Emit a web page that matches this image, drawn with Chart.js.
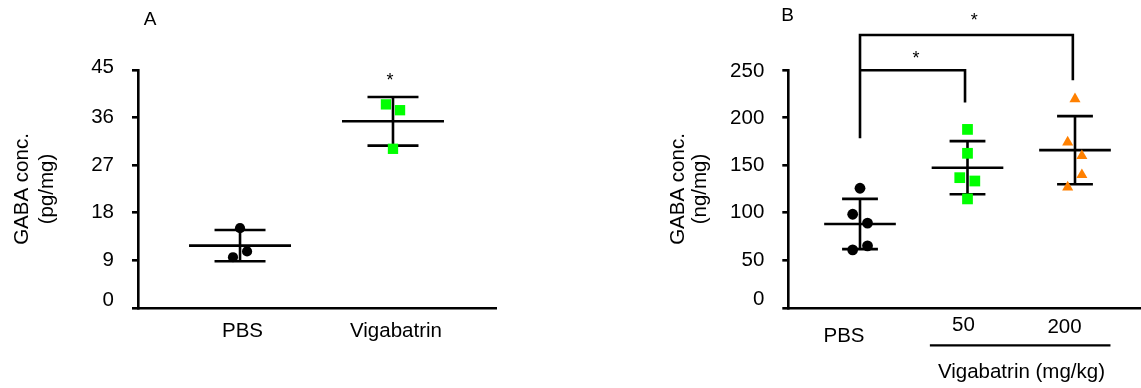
<!DOCTYPE html>
<html><head><meta charset="utf-8">
<script src="https://cdn.jsdelivr.net/npm/chart.js@4.4.1/dist/chart.umd.min.js"></script>
<style>
html,body{margin:0;padding:0;background:#fff;width:1141px;height:388px;overflow:hidden;}
#wrapA{position:absolute;left:0;top:0;width:497px;height:388px;}
#wrapB{position:absolute;left:640px;top:0;width:501px;height:388px;}
canvas{display:block;}
</style></head><body>
<div id="wrapA"><canvas id="cA" width="497" height="388"></canvas></div>
<div id="wrapB"><canvas id="cB" width="501" height="388"></canvas></div>
<script>
// ---------------- Panel A data ----------------
const categoriesA = ['PBS', 'Vigabatrin'];
const pbsA = [15.1, 10.7, 9.6];
const vigabatrinA = [38.5, 37.4, 30.1];
const meanA = [11.8, 35.3];
const sdA = [2.95, 4.6];
const yTicksA = [0, 9, 18, 27, 36, 45];
const yTitleA = ['GABA conc.', '(pg/mg)'];
const starsA = [{x: 1.98, y: 44.0}];

// ---------------- Panel B data ----------------
const categoriesB = ['PBS', '50', '200'];
const pbsB = [125.8, 98.5, 89.1, 65.3, 61.1];
const vig50B = [187.6, 162.5, 136.9, 133.4, 114.6];
const vig200B = [219.6, 174.1, 159.9, 139.9, 126.9];
const meanB = [88.2, 147.4, 165.8];
const sdB = [26.4, 27.9, 35.8];
const yTicksB = [0, 50, 100, 150, 200, 250];
const yTitleB = ['GABA conc.', '(ng/mg)'];
const groupTitleB = 'Vigabatrin (mg/kg)';
const starsB = [{x: 1.52, y: 267.3}, {x: 2.063, y: 307.4}];
const bracketsB = [
  [{x: 1, y: 178.2}, {x: 1, y: 286.8}, {x: 2.98, y: 286.8}, {x: 2.98, y: 239.3}],
  [{x: 1, y: 249.8}, {x: 1.977, y: 249.8}, {x: 1.977, y: 215.9}]
];

// ---------------- layout / style (not data) ----------------
const FAMILY = "'Liberation Sans', Arial, sans-serif";
const FS = 20.5;
const LW = 2.6;
const jitterA = [[0, 0.046, -0.046], [-0.046, 0.046, 0]];
const jitterB = [[0, -0.068, 0.07, 0.07, -0.068], [0, 0, -0.072, 0.068, 0], [0, -0.068, 0.064, 0.064, -0.068]];
const markA = [
  {pointStyle: 'circle', radius: 5.1, color: '#000000'},
  {pointStyle: 'rect', radius: 7.3, color: '#00FF00'}
];
const markB = [
  {pointStyle: 'circle', radius: 5.4, color: '#000000'},
  {pointStyle: 'rect', radius: 7.6, color: '#00FF00'},
  {pointStyle: 'triangle', radius: 6.4, color: '#FF8000'}
];

Chart.defaults.font.family = FAMILY;
Chart.defaults.color = '#000';

function seg(points) {
  return {type: 'scatter', data: points, showLine: true, borderColor: '#000', borderWidth: LW,
          pointRadius: 0, pointHoverRadius: 0, fill: false, clip: false, tension: 0};
}

function buildDatasets(groups, jitter, marks, means, sds, brackets) {
  const pts = [], lines = [];
  groups.forEach((vals, g) => {
    const pos = g + 1;
    pts.push({type: 'scatter',
      data: vals.map((v, i) => ({x: pos + jitter[g][i], y: v})),
      pointStyle: marks[g].pointStyle, pointRadius: marks[g].radius, pointHoverRadius: marks[g].radius,
      backgroundColor: marks[g].color, borderColor: marks[g].color, borderWidth: 0, clip: false});
    const m = means[g], s = sds[g];
    lines.push(seg([{x: pos - 1/3, y: m}, {x: pos + 1/3, y: m}]));
    lines.push(seg([{x: pos, y: m - s}, {x: pos, y: m + s}]));
    lines.push(seg([{x: pos - 1/6, y: m + s}, {x: pos + 1/6, y: m + s}]));
    lines.push(seg([{x: pos - 1/6, y: m - s}, {x: pos + 1/6, y: m - s}]));
  });
  (brackets || []).forEach(b => lines.push(seg(b)));
  return pts.concat(lines);
}

function textPlugin(cfg) {
  return {
    id: 'texts',
    afterDraw(chart) {
      const ctx = chart.ctx, xs = chart.scales.x, ys = chart.scales.y, ca = chart.chartArea;
      ctx.save();
      ctx.fillStyle = '#000';
      ctx.font = FS + 'px ' + FAMILY;
      // y tick labels
      ctx.textAlign = 'right'; ctx.textBaseline = 'alphabetic';
      cfg.yTicks.forEach((v, i) => {
        ctx.fillText(String(v), ca.left - cfg.yGap, ys.getPixelForValue(v) + cfg.yDy[i] + 0.358 * FS);
      });
      // x category labels
      ctx.textAlign = 'center';
      cfg.cats.forEach((c, i) => {
        ctx.fillText(c, xs.getPixelForValue(i + 1) + cfg.xDx[i], ca.bottom + cfg.xDy[i]);
      });
      // group title with line
      if (cfg.group) {
        ctx.strokeStyle = '#000'; ctx.lineWidth = 2.2;
        ctx.beginPath();
        const gy = ca.bottom + cfg.group.lineDy;
        ctx.moveTo(xs.getPixelForValue(cfg.group.from), gy);
        ctx.lineTo(xs.getPixelForValue(cfg.group.to), gy);
        ctx.stroke();
        ctx.fillText(cfg.group.text, xs.getPixelForValue(cfg.group.center), ca.bottom + cfg.group.textDy);
      }
      // significance stars
      ctx.font = '18px ' + FAMILY;
      cfg.stars.forEach(s => {
        ctx.fillText('*', xs.getPixelForValue(s.x), ys.getPixelForValue(s.y) + 10.3);
      });
      // panel letter
      ctx.font = '19px ' + FAMILY;
      ctx.textBaseline = 'middle';
      ctx.fillText(cfg.letter.text, cfg.letter.x, cfg.letter.y);
      ctx.restore();
    }
  };
}

function makeChart(id, o) {
  return new Chart(document.getElementById(id), {
    type: 'scatter',
    data: {datasets: o.datasets},
    options: {
      responsive: false, animation: false, events: [],
      layout: {autoPadding: false, padding: {top: 70, right: 0, bottom: 0, left: 0}},
      plugins: {legend: {display: false}, tooltip: {enabled: false}},
      scales: {
        x: {type: 'linear', min: o.xMin, max: o.xMax,
            grid: {display: false}, ticks: {display: false},
            border: {display: true, color: '#000', width: LW},
            afterFit: s => { s.height = 80; }},
        y: {type: 'linear', min: 0, max: o.yTicks[o.yTicks.length - 1],
            afterBuildTicks: s => { s.ticks = o.yTicks.map(v => ({value: v})); },
            grid: {display: true, drawOnChartArea: false, drawTicks: true, tickLength: 6, color: '#000', lineWidth: LW},
            border: {display: true, color: '#000', width: LW},
            ticks: {display: false},
            title: {display: true, text: o.yTitle, color: '#000',
                    font: {family: FAMILY, size: FS, lineHeight: o.titleLH + 'px'},
                    padding: {top: o.titlePad, bottom: 0}},
            afterFit: s => { s.width = o.yWidth; }}
      }
    },
    plugins: [textPlugin(o.text)]
  });
}

makeChart('cA', {
  datasets: buildDatasets([pbsA, vigabatrinA], jitterA, markA, meanA, sdA, null),
  xMin: 0.333, xMax: 2.68, yTicks: yTicksA, yTitle: yTitleA, titleLH: 24.7, titlePad: 22.4 - 12.35, yWidth: 138,
  text: {yTicks: yTicksA, yGap: 24, yDy: [-9, -2, -2, -2, -2, -4], cats: categoriesA, xDx: [2.5, 3], xDy: [29, 29],
         stars: starsA, letter: {text: 'A', x: 150, y: 20}, group: null}
});

makeChart('cB', {
  datasets: buildDatasets([pbsB, vig50B, vig200B], jitterB, markB, meanB, sdB, bracketsB),
  xMin: 0.333, xMax: 3.614, yTicks: yTicksB, yTitle: yTitleB, titleLH: 22.5, titlePad: 38.1 - 11.25, yWidth: 148.3,
  text: {yTicks: yTicksB, yGap: 24, yDy: [-10, -1.5, -2, -2, -1.3, -0.5], cats: categoriesB, xDx: [-16, -4, -10.5], xDy: [34.4, 23.4, 24.7],
         stars: starsB, letter: {text: 'B', x: 147.5, y: 15.5},
         group: {text: groupTitleB, from: 1.65, to: 3.33, center: 2.502, lineDy: 37.4, textDy: 70}}
});
</script>
</body></html>
